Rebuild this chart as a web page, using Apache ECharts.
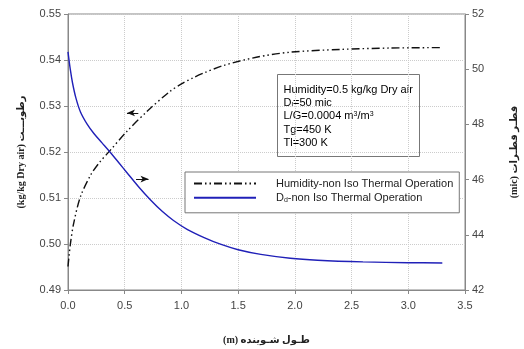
<!DOCTYPE html>
<html>
<head>
<meta charset="utf-8">
<script src="https://cdn.jsdelivr.net/npm/echarts@6/dist/echarts.min.js"></script>
<style>
  html, body { margin: 0; padding: 0; background: #fff; }
  #main { width: 524px; height: 349px; }
</style>
</head>
<body>
<div id="main"></div>
<script>
// humidity (left axis) vs scrubber length
const humX = [0, 0.02, 0.05, 0.11, 0.2, 0.28, 0.37, 0.52, 0.7, 0.9, 1.0, 1.1, 1.2, 1.37, 1.66, 1.96, 2.4, 2.84, 3.3];
const humY = [0.4951, 0.4998, 0.5045, 0.5103, 0.5150, 0.5178, 0.5203, 0.5245, 0.5289, 0.5332, 0.5348, 0.5361, 0.5372, 0.5388, 0.5406, 0.5417, 0.5423, 0.5426, 0.5427];
// droplet diameter (right axis)
const ddX = [0, 0.02, 0.04, 0.07, 0.11, 0.17, 0.23, 0.3, 0.37, 0.45, 0.52, 0.62, 0.73, 0.83, 0.93, 1.05, 1.2, 1.35, 1.5, 1.7, 1.96, 2.2, 2.6, 3.0, 3.3];
const ddY = [50.63, 50.0, 49.5, 48.95, 48.45, 48.0, 47.66, 47.33, 47.0, 46.6, 46.25, 45.75, 45.25, 44.85, 44.52, 44.2, 43.9, 43.65, 43.46, 43.29, 43.15, 43.08, 43.02, 42.99, 42.98];

const infoLines = [
  '{t|Humidity=0.5 kg/kg Dry air}',
  '{t|D}{sub|l}{t|=50 mic}',
  '{t|L/G=0.0004 m}{sup|3}{t|/m}{sup|3}',
  '{t|Tg=450 K}',
  '{t|Tl=300 K}'
];

const font = 'Liberation Sans, Arial, sans-serif';
const titleFont = 'Liberation Serif, DejaVu Sans, serif';
const pair = (xs, ys) => xs.map((x, i) => [x, ys[i]]);

const chart = echarts.init(document.getElementById('main'));

const richTxt = {
  t: { fontSize: 11, fontFamily: font, color: '#222' },
  sub: { fontSize: 7, fontFamily: font, color: '#222', verticalAlign: 'bottom', padding: [5, 0, 0, 0] },
  sup: { fontSize: 7, fontFamily: font, color: '#222', verticalAlign: 'top', padding: [0, 0, 5, 0] }
};

chart.setOption({
  animation: false,
  grid: {
    left: 68, right: 59, top: 14, bottom: 59, outerBoundsMode: 'none',
    show: true, borderColor: '#888', borderWidth: 1
  },
  textStyle: { fontFamily: font },
  xAxis: {
    type: 'value', min: 0, max: 3.5, interval: 0.5,
    name: '(m) طـول شـوينده',
    nameLocation: 'middle', nameGap: 45,
    nameTextStyle: { fontSize: 10, fontWeight: 'bold', color: '#222', fontFamily: titleFont },
    axisLine: { lineStyle: { color: '#888' } },
    axisTick: { length: 4, lineStyle: { color: '#888' } },
    axisLabel: { fontSize: 11, color: '#444', margin: 10, formatter: v => v.toFixed(1) },
    splitLine: { show: true, lineStyle: { type: 'dotted', color: '#ccc' } }
  },
  yAxis: [
    {
      type: 'value', min: 0.49, max: 0.55, interval: 0.01, position: 'left',
      name: '(kg/kg Dry air) رطوبـــت',
      nameLocation: 'middle', nameGap: 42, nameRotate: 90,
      nameTextStyle: { fontSize: 10, fontWeight: 'bold', color: '#222', fontFamily: titleFont },
      axisLine: { show: true, lineStyle: { color: '#888' } },
      axisTick: { show: true, length: 4, lineStyle: { color: '#888' } },
      axisLabel: { fontSize: 11, color: '#444', margin: 7, formatter: v => v.toFixed(2) },
      splitLine: { show: true, lineStyle: { type: 'dotted', color: '#ccc' } }
    },
    {
      type: 'value', min: 42, max: 52, interval: 2, position: 'right',
      name: '(mic) قطـر قطـرات',
      nameLocation: 'middle', nameGap: 44, nameRotate: 90,
      nameTextStyle: { fontSize: 10, fontWeight: 'bold', color: '#222', fontFamily: titleFont },
      axisLine: { show: true, lineStyle: { color: '#888' } },
      axisTick: { show: true, length: 4, lineStyle: { color: '#888' } },
      axisLabel: { fontSize: 11, color: '#444', margin: 7 },
      splitLine: { show: false }
    }
  ],
  legend: {
    orient: 'vertical', left: 185, top: 172,
    padding: [6, 6, 9, 8], itemGap: 3,
    itemWidth: 62, itemHeight: 14,
    itemStyle: { opacity: 0 },
    backgroundColor: '#fff', borderColor: '#777', borderWidth: 1, borderRadius: 0,
    textStyle: {
      fontSize: 11, color: '#222', fontFamily: font, padding: [0, 0, 0, 15],
      rich: {
        s: { fontSize: 11, color: '#222', fontFamily: font },
        b: { fontSize: 7, color: '#222', fontFamily: font, verticalAlign: 'bottom', padding: [5, 0, 0, 0] }
      }
    },
    formatter: n => n.startsWith('Dd') ? '{s|D}{b|d}{s|' + n.slice(2) + '}' : n,
    data: ['Humidity-non Iso Thermal Operation', 'Dd-non Iso Thermal Operation']
  },
  graphic: [
    {
      type: 'group', left: 277, top: 74,
      children: [
        { type: 'rect', shape: { x: 0, y: 0, width: 142, height: 82 }, style: { fill: '#fff', stroke: '#777', lineWidth: 1 } }
      ].concat(infoLines.map((s, i) => ({
        type: 'text', x: 6, y: 15 + i * 13.4,
        style: { text: s, rich: richTxt, verticalAlign: 'middle' }
      })))
    }
  ],
  series: [
    {
      name: 'Humidity-non Iso Thermal Operation',
      type: 'line', yAxisIndex: 0, smooth: 0.3, symbol: 'none',
      data: pair(humX, humY),
      itemStyle: { color: '#111' },
      lineStyle: { color: '#111', width: 1.4, type: [8, 3, 1.5, 3, 1.5, 3] },
      markLine: {
        silent: true, symbol: ['none', 'arrow'], symbolSize: [5, 8],
        label: { show: false },
        lineStyle: { color: '#111', width: 1, type: 'solid' },
        data: [[{ coord: [0.62, 0.5285] }, { coord: [0.52, 0.5285] }]]
      }
    },
    {
      name: 'Dd-non Iso Thermal Operation',
      type: 'line', yAxisIndex: 1, smooth: 0.3, symbol: 'none',
      data: pair(ddX, ddY),
      itemStyle: { color: '#2020b8' },
      lineStyle: { color: '#2020b8', width: 1.4 },
      markLine: {
        silent: true, symbol: ['none', 'arrow'], symbolSize: [5, 8],
        label: { show: false },
        lineStyle: { color: '#111', width: 1, type: 'solid' },
        data: [[{ coord: [0.6, 46.02] }, { coord: [0.71, 46.02] }]]
      }
    }
  ]
});
</script>
</body>
</html>
